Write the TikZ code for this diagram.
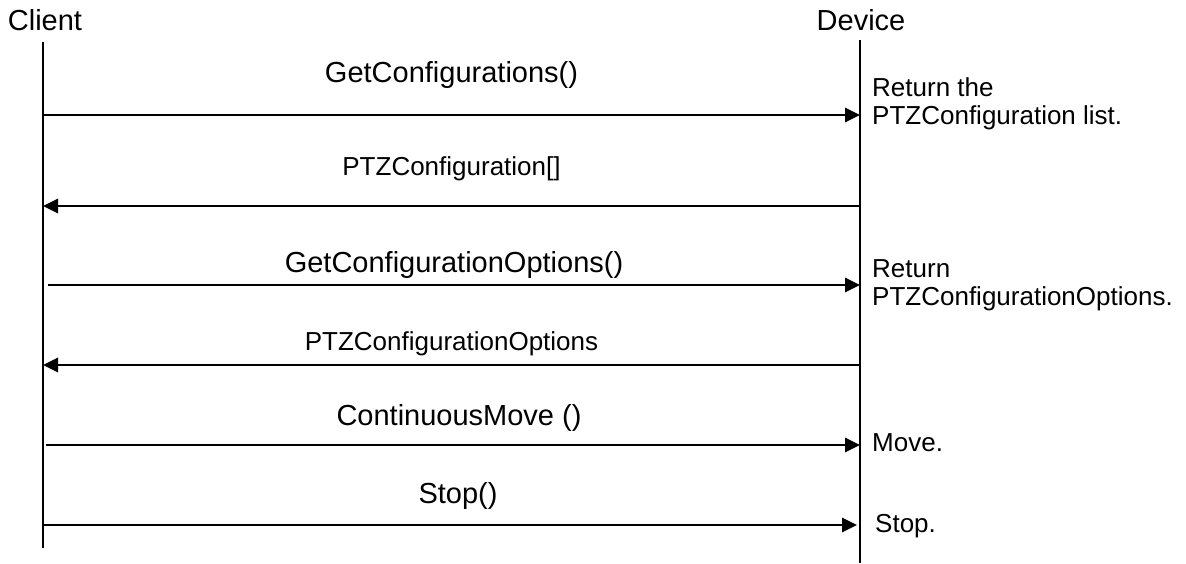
\documentclass[tikz,border=0pt]{standalone}
\usepackage{fontspec}
\setmainfont{Liberation Sans}
\usetikzlibrary{arrows.meta}

\tikzset{
  lifeline/.style={line width=2.8pt},
  msg/.style={line width=2.8pt, -{Triangle[length=15pt,width=14pt]}},
  actor/.style={anchor=base, inner sep=0pt, font=\fontsize{29}{34}\selectfont},
  call/.style={anchor=base, inner sep=0pt, font=\fontsize{29}{34}\selectfont},
  reply/.style={anchor=base, inner sep=0pt, font=\fontsize{26}{30}\selectfont},
  note/.style={anchor=base west, inner sep=0pt, align=left, font=\fontsize{26}{28}\selectfont}
}

\begin{document}
\begin{tikzpicture}[x=1pt, y=-1pt]
  \useasboundingbox (0,0) rectangle (1186,563);

  % actors
  \node[actor] (client) at (45,30) {Client};
  \node[actor] (device) at (861,30) {Device};

  % lifelines
  \coordinate (client top) at (43,42);
  \coordinate (client end) at (43,548);
  \coordinate (device top) at (860,40);
  \coordinate (device end) at (860,563);
  \draw[lifeline] (client top) -- (client end);
  \draw[lifeline] (device top) -- (device end);

  % message ends on the lifelines
  \coordinate (c1) at (43,115);  \coordinate (d1) at (860,115);
  \coordinate (c2) at (43,206);  \coordinate (d2) at (860,206);
  \coordinate (c3) at (48,285);  \coordinate (d3) at (860,285);
  \coordinate (c4) at (43,365);  \coordinate (d4) at (860,365);
  \coordinate (c5) at (46,445);  \coordinate (d5) at (860,445);
  \coordinate (c6) at (43,525);  \coordinate (d6) at (857,525);

  % messages
  \draw[msg] (c1) -- node[call, yshift=33pt] {GetConfigurations()} (d1);
  \draw[msg] (d2) -- node[reply, yshift=31pt] {PTZConfiguration[]} (c2);
  \draw[msg] (c3) -- node[call, yshift=13pt] {GetConfigurationOptions()} (d3);
  \draw[msg] (d4) -- node[reply, yshift=15pt] {PTZConfigurationOptions} (c4);
  \draw[msg] (c5) -- node[call, xshift=6pt, yshift=20pt] {ContinuousMove ()} (d5);
  \draw[msg] (c6) -- node[call, xshift=8pt, yshift=22pt] {Stop()} (d6);

  % notes at the device (base = last line)
  \node[note] (note1) at (872,124) {Return the\\PTZConfiguration list.};
  \node[note] (note2) at (872,305) {Return\\PTZConfigurationOptions.};
  \node[note] (note3) at (872,451) {Move.};
  \node[note] (note4) at (875,532) {Stop.};
\end{tikzpicture}
\end{document}
